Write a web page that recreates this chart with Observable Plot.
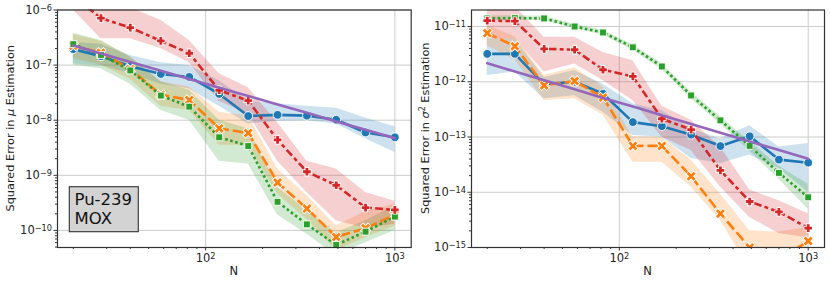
<!DOCTYPE html>
<html><head><meta charset="utf-8">
<script src="https://cdn.jsdelivr.net/npm/d3@7"></script>
<script src="https://cdn.jsdelivr.net/npm/@observablehq/plot@0.6"></script>
<style>
body{margin:0;background:#fff;}
#wrap{position:relative;width:830px;height:283px;overflow:hidden;}
#wrap svg{position:absolute;top:0;}
</style></head><body><div id="wrap"></div>
<script>
// sample sizes
const N = [20, 28, 40, 58, 82, 118, 168, 240, 343, 490, 700, 1000];

// ---- left panel: squared error in mu ----
const muBlue   = [1.95e-7, 1.45e-7, 9.5e-8, 6.9e-8, 6.1e-8, 3.0e-8, 1.19e-8, 1.25e-8, 1.21e-8, 1.02e-8, 6.0e-9, 4.9e-9];
const muBlueLo = [1.05e-7, 9.8e-8, 7.0e-8, 4.5e-8, 3.7e-8, 1.8e-8, 8.5e-9, 9.6e-9, 9.8e-9, 8.5e-9, 4.6e-9, 2.6e-9];
const muBlueHi = [2.6e-7, 2.4e-7, 1.5e-7, 1.1e-7, 9.8e-8, 5.2e-8, 2.2e-8, 2.0e-8, 1.8e-8, 1.65e-8, 1.1e-8, 7.6e-9];
const muOrange   = [2.25e-7, 1.67e-7, 8.5e-8, 2.9e-8, 2.33e-8, 7.1e-9, 5.85e-9, 7.4e-10, 2.49e-10, 7.6e-11, 1.1e-10, 1.9e-10];
const muOrangeLo = [1.3e-7, 1.0e-7, 5.5e-8, 1.8e-8, 1.5e-8, 3.5e-9, 3.5e-9, 4.6e-10, 1.6e-10, 4.3e-11, 7.4e-11, 1.2e-10];
const muOrangeHi = [3.6e-7, 2.7e-7, 1.4e-7, 5.0e-8, 4.0e-8, 1.4e-8, 1.2e-8, 1.3e-9, 4.3e-10, 1.2e-10, 2.2e-10, 3.0e-10];
const muGreen   = [2.4e-7, 1.53e-7, 8.0e-8, 2.8e-8, 1.76e-8, 4.9e-9, 3.4e-9, 3.3e-10, 1.29e-10, 5.45e-11, 9.5e-11, 1.78e-10];
const muGreenLo = [1.0e-7, 8.6e-8, 4.5e-8, 1.5e-8, 1.0e-8, 1.8e-9, 1.6e-9, 1.9e-10, 8.5e-11, 3.5e-11, 6.0e-11, 1.0e-10];
const muGreenHi = [3.8e-7, 2.8e-7, 1.4e-7, 5.0e-8, 3.5e-8, 1.0e-8, 7.0e-9, 6.0e-10, 2.3e-10, 9.0e-11, 1.5e-10, 2.8e-10];
const muRed   = [1.8e-6, 7.1e-7, 4.8e-7, 2.75e-7, 1.64e-7, 3.5e-8, 2.26e-8, 4.4e-9, 1.16e-9, 6.6e-10, 2.6e-10, 2.36e-10];
const muRedLo = [1.0e-6, 3.0e-7, 3.0e-7, 2.0e-7, 1.1e-7, 2.2e-8, 1.3e-8, 1.8e-9, 4.9e-10, 1.5e-10, 1.1e-10, 1.3e-10];
const muRedHi = [3.5e-6, 1.6e-6, 1.1e-6, 6.5e-7, 2.8e-7, 7.0e-8, 3.9e-8, 9.0e-9, 1.8e-9, 1.3e-9, 4.9e-10, 3.4e-10];
const muPurple = [2.26e-7, 1.62e-7, 1.14e-7, 7.9e-8, 5.6e-8, 3.9e-8, 2.75e-8, 1.93e-8, 1.36e-8, 9.5e-9, 6.7e-9, 4.7e-9];

// ---- right panel: squared error in sigma^2 ----
const sgBlue   = [3.2e-12, 3.2e-12, 9.0e-13, 1.0e-12, 6.07e-13, 1.86e-13, 1.57e-13, 1.10e-13, 6.86e-14, 1.03e-13, 3.9e-14, 3.43e-14];
const sgBlueLo = [1.3e-12, 1.5e-12, 4.9e-13, 5.6e-13, 2.8e-13, 1.07e-13, 1.0e-13, 4.1e-14, 3.3e-14, 4.7e-14, 2.7e-14, 1.0e-14];
const sgBlueHi = [6.0e-12, 6.0e-12, 1.2e-12, 1.6e-12, 9.0e-13, 4.0e-13, 3.0e-13, 1.4e-13, 9.3e-14, 1.6e-13, 6.6e-14, 7.6e-14];
const sgOrange   = [7.6e-12, 4.4e-12, 8.6e-13, 1.03e-12, 5.2e-13, 6.9e-14, 6.9e-14, 1.94e-14, 4.1e-15, 1.0e-15, 6.0e-16, 1.31e-15];
const sgOrangeLo = [4.5e-12, 2.5e-12, 4.6e-13, 4.9e-13, 2.5e-13, 3.5e-14, 3.5e-14, 1.25e-14, 3.1e-15, 4.0e-16, 3.0e-16, 7.0e-16];
const sgOrangeHi = [1.05e-11, 6.5e-12, 1.3e-12, 1.8e-12, 8.0e-13, 1.0e-13, 1.0e-13, 3.8e-14, 9.3e-15, 2.0e-15, 1.9e-15, 2.3e-15];
const sgGreen   = [1.4e-11, 1.42e-11, 1.4e-11, 1.0e-11, 7.8e-12, 4.2e-12, 1.89e-12, 5.65e-13, 2.0e-13, 6.9e-14, 2.24e-14, 8.1e-15];
const sgGreenLo = [1.28e-11, 1.3e-11, 1.28e-11, 9.1e-12, 7.0e-12, 3.7e-12, 1.65e-12, 4.9e-13, 1.7e-13, 5.6e-14, 1.7e-14, 5.0e-15];
const sgGreenHi = [1.55e-11, 1.56e-11, 1.53e-11, 1.1e-11, 8.6e-12, 4.7e-12, 2.15e-12, 6.5e-13, 2.35e-13, 8.3e-14, 3.0e-14, 1.4e-14];
const sgRed   = [1.28e-11, 1.25e-11, 3.95e-12, 3.8e-12, 1.65e-12, 1.25e-12, 2.14e-13, 1.36e-13, 2.49e-14, 6.8e-15, 4.4e-15, 2.25e-15];
const sgRedLo = [6.0e-12, 6.0e-12, 1.5e-12, 2.1e-12, 1.05e-12, 4.6e-13, 1.0e-13, 5.7e-14, 1.25e-14, 3.5e-15, 1.8e-15, 1.5e-15];
const sgRedHi = [2.5e-11, 2.3e-11, 6.4e-12, 6.4e-12, 3.4e-12, 2.4e-12, 3.6e-13, 2.0e-13, 6.6e-14, 1.1e-14, 7.0e-15, 4.1e-15];
const sgPurple = [2.17e-12, 1.53e-12, 1.06e-12, 7.3e-13, 5.1e-13, 3.55e-13, 2.47e-13, 1.72e-13, 1.19e-13, 8.3e-14, 5.8e-14, 4.05e-14];

// tick labels
const xMajorTicks = [100, 1000];
const muMajorTicks = [1e-10, 1e-9, 1e-8, 1e-7, 1e-6];
const sgMajorTicks = [1e-15, 1e-14, 1e-13, 1e-12, 1e-11];
const boxLines = ["Pu-239", "MOX"];
const muLabel = ["Squared Error in ", "μ", " Estimation"];
const sgLabel = ["Squared Error in ", "σ", "2", " Estimation"];
const xLabel = "N";

const colors = {blue:"#1f77b4", orange:"#ff7f0e", green:"#2ca02c", red:"#d62728", purple:"#9467bd"};
const FONT = "DejaVu Sans, sans-serif";
const expOf = v => String(Math.round(Math.log10(v))).replace("-", "\u2212");
const fmt = v => "10^" + expOf(v);

function minorTicks(lo, hi) {
  const out = [];
  for (let e = Math.floor(Math.log10(lo)) - 1; e <= Math.ceil(Math.log10(hi)); e++) {
    for (let k = 2; k <= 9; k++) { const v = k * Math.pow(10, e); if (v >= lo && v <= hi) out.push(v); }
  }
  return out;
}

function rows(v, lo, hi) { return N.map((n, i) => ({N: n, v: v[i], lo: lo ? lo[i] : null, hi: hi ? hi[i] : null})); }

function panel(cfg) {
  const xDomain = [16.5, 1220];
  const S = cfg.series;
  const lw = 2.6;
  const marks = [
    Plot.gridX(xMajorTicks, {stroke: "#cccccc", strokeOpacity: 1, strokeWidth: 1}),
    Plot.gridY(cfg.majors, {stroke: "#cccccc", strokeOpacity: 1, strokeWidth: 1}),
  ];
  for (const s of S) marks.push(Plot.areaY(s.data, {x: "N", y1: "lo", y2: "hi", fill: s.color, fillOpacity: 0.22, clip: true}));
  for (const s of S) {
    marks.push(Plot.lineY(s.data, {x: "N", y: "v", stroke: s.color, strokeWidth: lw, strokeDasharray: s.dash, strokeLinecap: "butt", strokeLinejoin: "round", clip: true}));
    if (s.marker === "circle") marks.push(Plot.dot(s.data, {x: "N", y: "v", r: 4.4, fill: s.color, stroke: "white", strokeWidth: 0.9, clip: true}));
    if (s.marker === "square") marks.push(Plot.dot(s.data, {x: "N", y: "v", symbol: "square", r: 3.9, fill: s.color, stroke: "white", strokeWidth: 0.9, clip: true}));
    if (s.marker === "times" || s.marker === "plus") {
      const r = s.marker === "times" ? 3.3 : 2.6;
      marks.push(Plot.dot(s.data, {x: "N", y: "v", symbol: s.marker, r: r + 0.5, stroke: "white", strokeWidth: 4.6, clip: true}));
      marks.push(Plot.dot(s.data, {x: "N", y: "v", symbol: s.marker, r: r, stroke: s.color, strokeWidth: 2.8, clip: true}));
    }
  }
  marks.push(Plot.lineY(cfg.purple, {x: "N", y: "v", stroke: colors.purple, strokeWidth: 2.6, clip: true}));
  marks.push(Plot.frame({stroke: "#333", strokeWidth: 1.2}));
  marks.push(Plot.axisX(minorTicks(xDomain[0], xDomain[1]), {tickSize: 2, tickFormat: () => "", label: null, stroke: "#333"}));
  marks.push(Plot.axisX(xMajorTicks, {tickSize: 3.5, tickFormat: fmt, label: null, tickPadding: 3, stroke: "#333"}));
  marks.push(Plot.axisY(minorTicks(cfg.yDomain[0], cfg.yDomain[1]), {tickSize: 2, tickFormat: () => "", label: null, stroke: "#333"}));
  marks.push(Plot.axisY(cfg.majors, {tickSize: 3.5, tickFormat: fmt, label: null, tickPadding: 2, stroke: "#333"}));

  const svg = Plot.plot({
    width: 415, height: 283,
    marginLeft: cfg.ml, marginRight: cfg.mr, marginTop: 9.5, marginBottom: 36,
    x: {type: "log", domain: xDomain},
    y: {type: "log", domain: cfg.yDomain},
    style: {fontFamily: FONT, fontSize: "11.5px", color: "#222", background: "white", overflow: "visible"},
    marks
  });
  svg.style.left = cfg.left + "px";
  const g = d3.select(svg);
  // turn "10^e" tick labels into base + superscript
  g.selectAll("text").each(function() {
    const t = this.textContent;
    if (t.startsWith("10^")) {
      const el = d3.select(this);
      el.text("10");
      el.append("tspan").attr("baseline-shift", "38%").attr("font-size", "8.2px").text(t.slice(3));
    }
  });
  // axis labels
  const frameMid = cfg.ml + (415 - cfg.ml - cfg.mr) / 2;
  g.append("text").attr("x", frameMid).attr("y", 275).attr("text-anchor", "middle")
    .attr("font-family", FONT).attr("font-size", "11.5px").attr("fill", "#222").text(xLabel);
  const yl = g.append("text").attr("transform", `translate(13.5,${(9.5 + 247) / 2}) rotate(-90)`)
    .attr("text-anchor", "middle").attr("font-family", FONT).attr("font-size", "11.3px").attr("fill", "#222");
  cfg.label.forEach((t) => {
    const ts = yl.append("tspan").text(t);
    if (t === "μ" || t === "σ") ts.attr("font-style", "italic");
    if (t === "2") ts.attr("baseline-shift", "super").attr("font-size", "8px");
  });
  if (cfg.box) {
    g.append("rect").attr("x", 69.3).attr("y", 186.7).attr("width", 69).attr("height", 45)
      .attr("fill", "#d3d3d3").attr("stroke", "#333").attr("stroke-width", 1.1);
    boxLines.forEach((t, i) => g.append("text").attr("x", 74.5).attr("y", 205 + i * 18.5).attr("text-anchor", "start")
      .attr("font-family", FONT).attr("font-size", "16.5px").attr("fill", "#111").text(t));
  }
  document.getElementById("wrap").appendChild(svg);
}

panel({
  left: 0, ml: 57, mr: 4.3, yDomain: [4.9e-11, 1e-6], majors: muMajorTicks, label: muLabel, box: true,
  purple: rows(muPurple),
  series: [
    {data: rows(muBlue, muBlueLo, muBlueHi), color: colors.blue, dash: null, marker: "circle"},
    {data: rows(muOrange, muOrangeLo, muOrangeHi), color: colors.orange, dash: "10.4,3.9", marker: "times"},
    {data: rows(muGreen, muGreenLo, muGreenHi), color: colors.green, dash: "2.6,2.6", marker: "square"},
    {data: rows(muRed, muRedLo, muRedHi), color: colors.red, dash: "7.8,3.2,3.9,3.2", marker: "plus"}
  ]
});
panel({
  left: 415, ml: 56, mr: 6, yDomain: [1e-15, 1.99e-11], majors: sgMajorTicks, label: sgLabel, box: false,
  purple: rows(sgPurple),
  series: [
    {data: rows(sgBlue, sgBlueLo, sgBlueHi), color: colors.blue, dash: null, marker: "circle"},
    {data: rows(sgOrange, sgOrangeLo, sgOrangeHi), color: colors.orange, dash: "10.4,3.9", marker: "times"},
    {data: rows(sgGreen, sgGreenLo, sgGreenHi), color: colors.green, dash: "2.6,2.6", marker: "square"},
    {data: rows(sgRed, sgRedLo, sgRedHi), color: colors.red, dash: "7.8,3.2,3.9,3.2", marker: "plus"}
  ]
});
</script></body></html>
